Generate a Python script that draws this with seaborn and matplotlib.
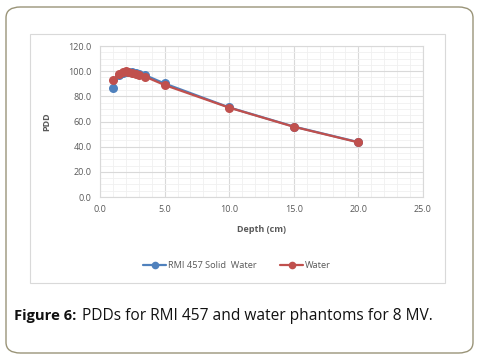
import numpy as np
import pandas as pd
import seaborn as sns
from matplotlib import pyplot as plt
from matplotlib.patches import FancyBboxPatch, Rectangle
from matplotlib.ticker import MultipleLocator

# Profundidades (cm) y PDD de cada maniquí
depth = [1.0, 1.5, 1.8, 2.0, 2.2, 2.5, 2.8, 3.0, 3.5, 5.0, 10.0, 15.0, 20.0]
pdd_solid = [87.0, 97.0, 98.8, 99.5, 99.6, 99.2, 98.4, 97.8, 96.8, 90.2, 71.2, 56.0, 43.6]
pdd_water = [92.6, 98.0, 99.5, 100.0, 99.6, 98.8, 97.9, 97.2, 95.6, 89.0, 71.0, 55.8, 43.4]
series = ["RMI 457 Solid  Water", "Water"]
colores = ["#4F81BD", "#C0504D"]

df = pd.DataFrame({
    "depth": depth * 2,
    "pdd": pdd_solid + pdd_water,
    "serie": [series[0]] * len(depth) + [series[1]] * len(depth),
})

sns.set_style("white")
plt.rcParams["font.family"] = ["Open Sans", "DejaVu Sans"]

fig = plt.figure(figsize=(4.79, 3.59), dpi=100)
W, H = 479, 359

# Marco exterior redondeado
fig.patches.append(FancyBboxPatch((6 / W, 6 / H), 467 / W, 346 / H,
                                  boxstyle="round,pad=0,rounding_size=0.03",
                                  transform=fig.transFigure, fill=False,
                                  edgecolor="#9a9478", linewidth=1.0))
# Caja del gráfico
fig.patches.append(Rectangle((30 / W, 1 - 283 / H), 415 / W, 249 / H,
                             transform=fig.transFigure, fill=False,
                             edgecolor="#d9d9d9", linewidth=0.8))

ax = fig.add_axes([100 / W, 1 - 197 / H, 323 / W, 151 / H])
sns.lineplot(data=df, x="depth", y="pdd", hue="serie", palette=colores,
             marker="o", markersize=6.5, markeredgewidth=0, linewidth=1.6,
             ax=ax, legend=False)

ax.set_xlim(0, 25)
ax.set_ylim(0, 120)
ax.xaxis.set_major_locator(MultipleLocator(5))
ax.yaxis.set_major_locator(MultipleLocator(20))
ax.xaxis.set_minor_locator(MultipleLocator(1))
ax.yaxis.set_minor_locator(MultipleLocator(5))
ax.grid(which="major", color="#d9d9d9", linewidth=0.8)
ax.grid(which="minor", color="#f0f0f0", linewidth=0.6)
ax.set_axisbelow(True)
for s in ax.spines.values():
    s.set_color("#d9d9d9")
    s.set_linewidth(0.8)
ax.tick_params(which="both", length=0, labelsize=6.5, labelcolor="#595959", pad=6)
ax.set_xticklabels([f"{v:.1f}" for v in ax.get_xticks()])
ax.set_yticklabels([f"{v:.1f}" for v in ax.get_yticks()])
ax.set_xlabel("Depth (cm)", fontsize=6.5, fontweight="bold", color="#595959", labelpad=8)
ax.set_ylabel("PDD", fontsize=6.5, fontweight="bold", color="#595959", labelpad=12)

handles = [plt.Line2D([], [], color=c, marker="o", markersize=5.5, markeredgewidth=0,
                      linewidth=1.6) for c in colores]
fig.legend(handles, series, loc="center", bbox_to_anchor=(237 / W, 1 - 266 / H),
           ncol=2, frameon=False, fontsize=6.7, labelcolor="#595959",
           handlelength=2.5, handletextpad=0.2, columnspacing=2.5)

fig.text(14 / W, 1 - 316 / H, "Figure 6:", fontsize=10.6, fontweight="bold",
         va="center", ha="left", color="#111111")
fig.text(82 / W, 1 - 316 / H, "PDDs for RMI 457 and water phantoms for 8 MV.",
         fontsize=11.2, va="center", ha="left", color="#111111")

fig.savefig("out.png", dpi=100)
